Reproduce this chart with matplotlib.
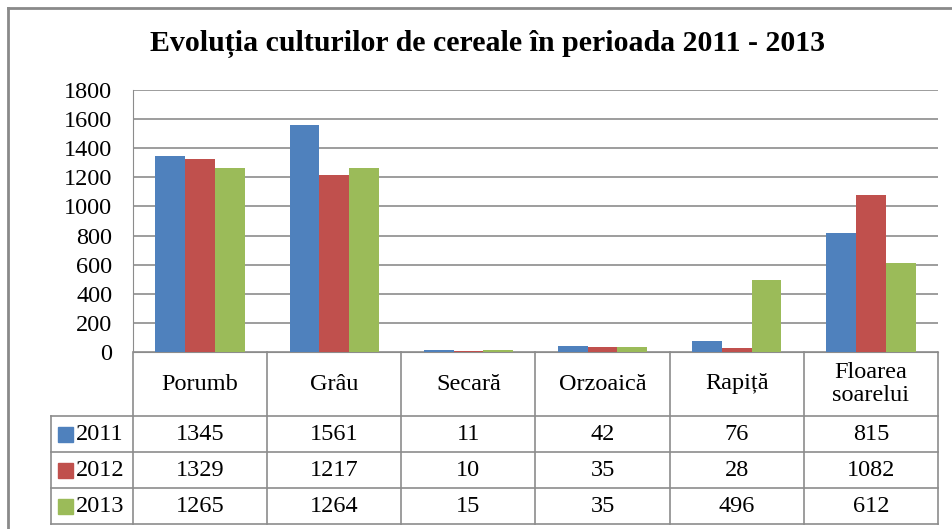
import matplotlib
matplotlib.use('Agg')
import matplotlib.pyplot as plt
from matplotlib.transforms import blended_transform_factory
from matplotlib.patches import Rectangle
from matplotlib.lines import Line2D
import numpy as np

plt.rcParams['font.family'] = ['Liberation Serif', 'DejaVu Serif']

# data
categories = ['Porumb', 'Grâu', 'Secară', 'Orzoaică', 'Rapiță', 'Floarea\nsoarelui']
years = ['2011', '2012', '2013']
v2011 = [1345, 1561, 11, 42, 76, 815]
v2012 = [1329, 1217, 10, 35, 28, 1082]
v2013 = [1265, 1264, 15, 35, 496, 612]
colors = ['#4F81BD', '#C0504D', '#9BBB59']
grid_c = '#8c8c8c'
fs = 17.5

W, H = 953, 529
fig = plt.figure(figsize=(W / 100, H / 100), dpi=100)
ax = fig.add_axes([133 / W, 1 - 352 / H, (938 - 133) / W, (352 - 90) / H])

x = np.arange(len(categories))
bw = 0.222
series = [v2011, v2012, v2013]
for i, (vals, c) in enumerate(zip(series, colors)):
    ax.bar(x + (i - 1) * bw, vals, bw, color=c, zorder=3)

ax.set_xlim(-0.5, len(categories) - 0.5)
ax.set_ylim(0, 1800)
ax.set_yticks(range(0, 1801, 200))
ax.yaxis.grid(True, color=grid_c, lw=1.2)
ax.set_axisbelow(True)
ax.set_xticks([])
for s in ['top', 'right']:
    ax.spines[s].set_visible(False)
for s in ['left', 'bottom']:
    ax.spines[s].set_color(grid_c)
ax.tick_params(axis='y', length=0, pad=15, labelsize=fs)

# data table under the chart
tr = blended_transform_factory(ax.transData, ax.transAxes)
ph = 352 - 90
rows_y = [0, -64 / ph, -100 / ph, -136 / ph, -172 / ph]
x_leg = -0.5 - 82 / 134
x_right = len(categories) - 0.5


def line(xs, ys):
    ax.add_line(Line2D(xs, ys, transform=tr, color=grid_c, lw=1.2, clip_on=False))


for k in range(len(categories) + 1):
    line([-0.5 + k, -0.5 + k], [rows_y[0], rows_y[-1]])
line([x_leg, x_leg], [rows_y[1], rows_y[-1]])
for yy in rows_y[1:]:
    line([x_leg, x_right], [yy, yy])

for xi, cat in zip(x, categories):
    ax.text(xi, (rows_y[0] + rows_y[1]) / 2, cat, transform=tr, ha='center',
            va='center', fontsize=fs, linespacing=1.15)

for r, (yr, vals, c) in enumerate(zip(years, series, colors)):
    yc = (rows_y[r + 1] + rows_y[r + 2]) / 2
    for xi, v in zip(x, vals):
        ax.text(xi, yc, str(v), transform=tr, ha='center', va='center', fontsize=fs)
    sq_h = 15 / ph
    ax.add_patch(Rectangle((-0.5 - 75 / 134, yc - sq_h / 2), 15 / 134, sq_h,
                           transform=tr, color=c, clip_on=False))
    ax.text(-0.5 - 57 / 134, yc, yr, transform=tr, ha='left', va='center', fontsize=fs)

fig.text(488 / W, 1 - 44 / H, 'Evoluția culturilor de cereale în perioada 2011 - 2013',
         ha='center', va='center', fontsize=21.5, fontweight='bold')

# chart border
fig.add_artist(Line2D([8 / W, 8 / W], [0, 1 - 8 / H], transform=fig.transFigure,
                      color='#8a8a8a', lw=2))
fig.add_artist(Line2D([8 / W, 1], [1 - 8 / H, 1 - 8 / H], transform=fig.transFigure,
                      color='#8a8a8a', lw=2))

fig.savefig('out.png', dpi=100)
